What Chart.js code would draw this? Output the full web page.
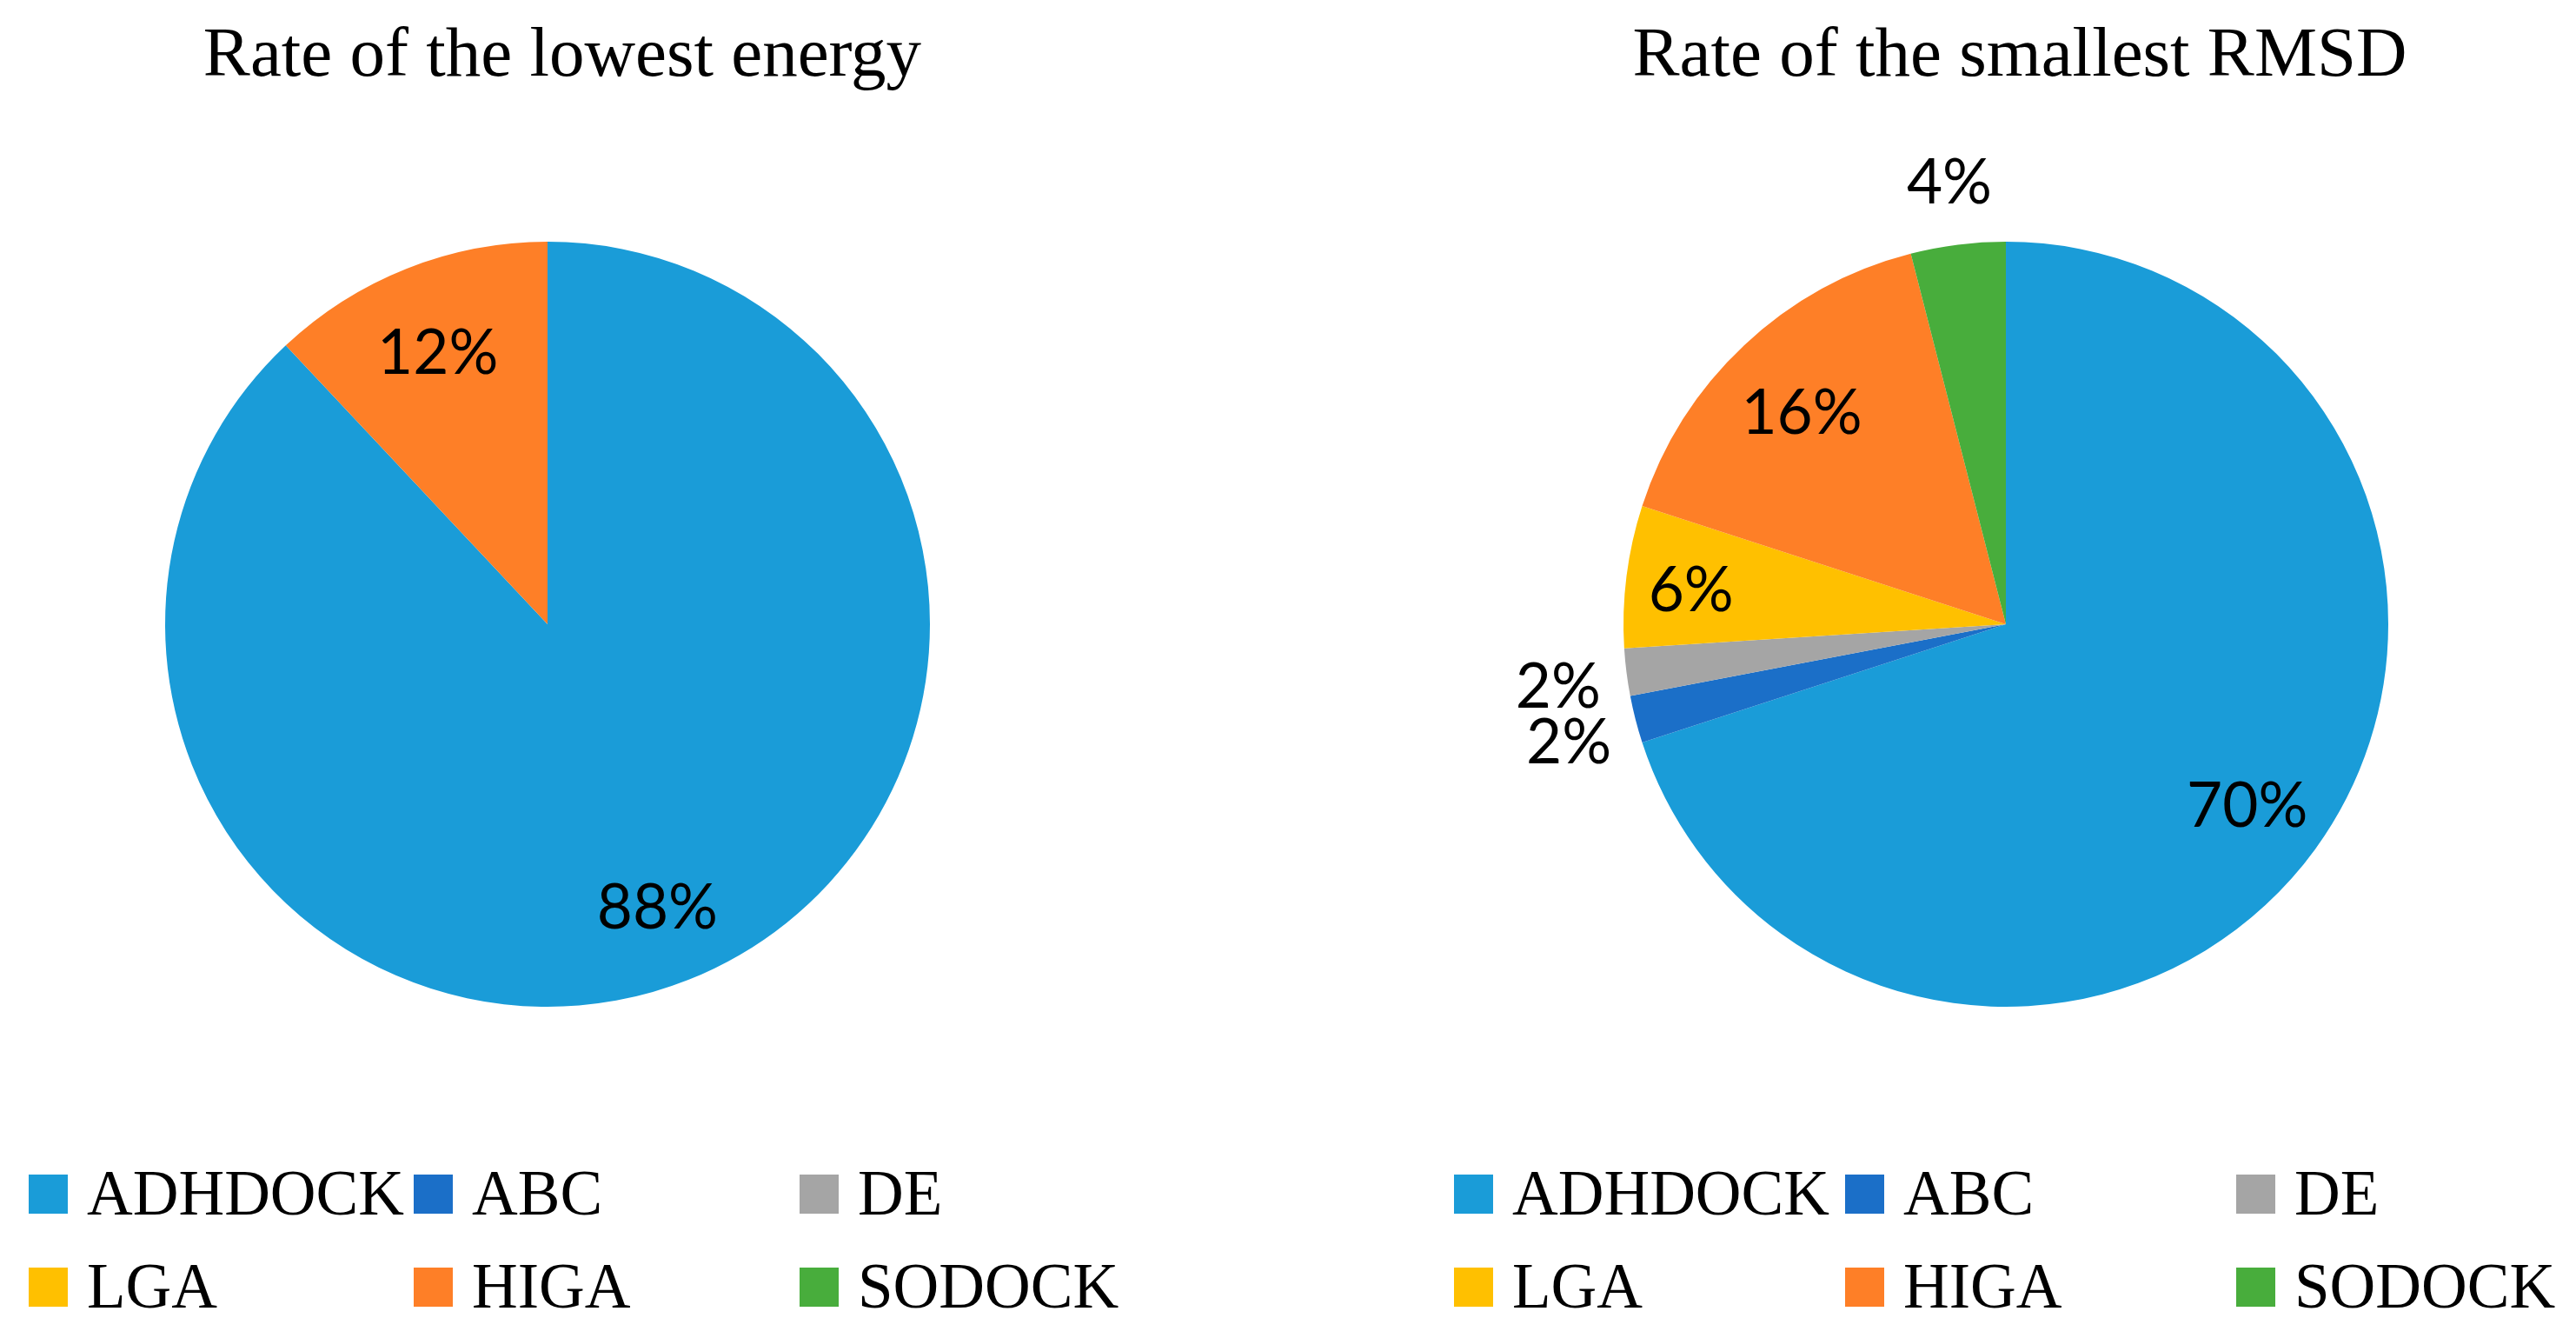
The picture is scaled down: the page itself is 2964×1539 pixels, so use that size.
<!DOCTYPE html>
<html>
<head>
<meta charset="utf-8">
<script src="https://cdn.jsdelivr.net/npm/chart.js@4.4.1/dist/chart.umd.min.js"></script>
<style>
  html, body { margin: 0; padding: 0; background: #fff; }
  #page { position: relative; width: 2964px; height: 1539px; overflow: hidden; }
  .title {
    position: absolute; top: 14px; width: 1200px; text-align: center;
    font-family: "Liberation Serif", serif; font-size: 81px; color: #000; white-space: nowrap;
  }
  .chartBox { position: absolute; top: 150px; width: 1482px; height: 1140px; }
  .legendItem {
    position: absolute; height: 50px; display: flex; align-items: center;
    font-family: "Liberation Serif", serif; font-size: 73px; color: #000; white-space: nowrap;
  }
  .legendItem span.box { width: 45px; height: 45px; margin-right: 22px; flex: none; }
</style>
</head>
<body>
<div id="page">
  <div class="title" id="titleLeft"></div>
  <div class="title" id="titleRight"></div>
  <div class="chartBox" style="left:0"><canvas id="chartLeft"></canvas></div>
  <div class="chartBox" style="left:1482px"><canvas id="chartRight"></canvas></div>
  <div id="legendLeft"></div>
  <div id="legendRight"></div>
</div>
<script>
const methods = ['ADHDOCK', 'ABC', 'DE', 'LGA', 'HIGA', 'SODOCK'];
const methodColors = ['#1A9CD8', '#1B6FC8', '#A5A5A5', '#FFC000', '#FE7F27', '#48AD3C'];
const lowestEnergy = [88, 0, 0, 0, 12, 0];
const smallestRmsd = [70, 2, 2, 6, 16, 4];
const titles = ['Rate of the lowest energy', 'Rate of the smallest RMSD'];

const $ = (id) => document.getElementById(id);

// percent labels, inside the slice or just outside for the thin ones
const pctLabels = {
  id: 'pctLabels',
  afterDatasetsDraw(chart) {
    const ctx = chart.ctx;
    const values = chart.data.datasets[0].data;
    ctx.save();
    ctx.font = '71px Lato, "Open Sans", sans-serif';
    ctx.fillStyle = '#000';
    ctx.textAlign = 'center';
    ctx.textBaseline = 'middle';
    chart.getDatasetMeta(0).data.forEach((arc, i) => {
      const v = values[i];
      if (!v) return;
      const p = arc.getProps(['x', 'y', 'startAngle', 'endAngle', 'outerRadius'], true);
      const mid = (p.startAngle + p.endAngle) / 2;
      const f = v < 5 ? 1.18 : (v < 10 ? 0.83 : 0.78);
      ctx.fillText(v + '%', p.x + Math.cos(mid) * p.outerRadius * f, p.y + Math.sin(mid) * p.outerRadius * f + 8);
    });
    ctx.restore();
  }
};

function renderPie(canvasId, values, padding) {
  return new Chart($(canvasId), {
    type: 'pie',
    data: {
      labels: methods,
      datasets: [{
        data: values,
        backgroundColor: methodColors,
        borderWidth: 0,
        radius: 440
      }]
    },
    options: {
      responsive: true,
      maintainAspectRatio: false,
      animation: false,
      layout: { padding },
      plugins: {
        legend: { display: false },
        tooltip: { enabled: false }
      }
    },
    plugins: [pctLabels]
  });
}

function renderLegend(id, colX, rowY) {
  const box = $(id);
  box.innerHTML = methods.map((m, i) => `
    <div class="legendItem" style="left:${colX[i % 3]}px; top:${rowY[Math.floor(i / 3)]}px">
      <span class="box" style="background:${methodColors[i]}"></span>${m}
    </div>`).join('');
}

$('titleLeft').textContent = titles[0];
$('titleLeft').style.left = (647 - 600) + 'px';
$('titleRight').textContent = titles[1];
$('titleRight').style.left = (2324 - 600) + 'px';

renderPie('chartLeft', lowestEnergy, { left: 0, right: 222, top: 0, bottom: 4 });
renderPie('chartRight', smallestRmsd, { left: 170, right: 0, top: 0, bottom: 4 });

renderLegend('legendLeft', [33, 476, 920], [1348, 1455]);
renderLegend('legendRight', [1673, 2123, 2573], [1348, 1455]);
</script>
</body>
</html>
